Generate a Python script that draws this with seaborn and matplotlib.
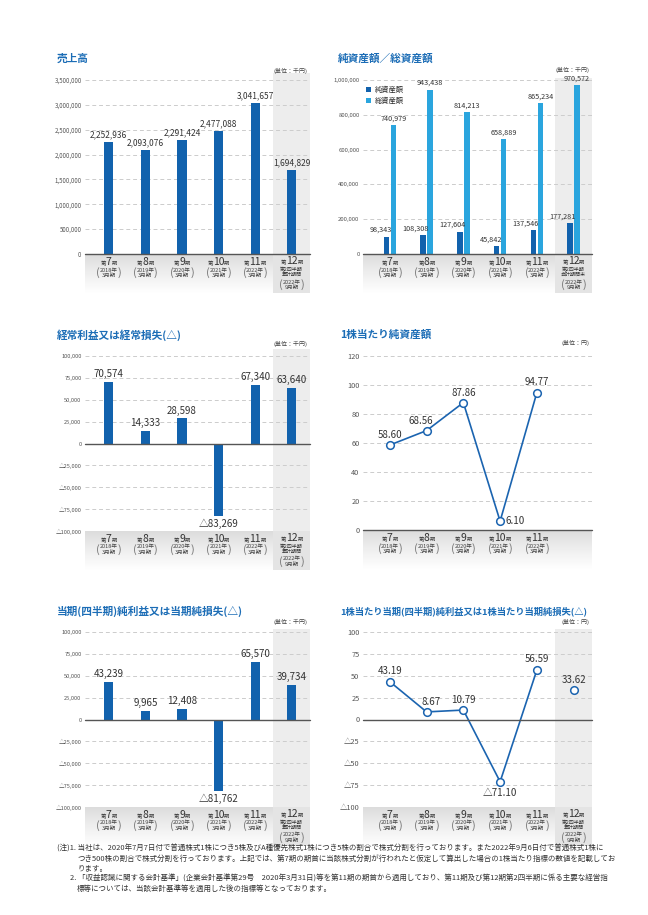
import numpy as np
import pandas as pd
import matplotlib
matplotlib.use('Agg')
import matplotlib.pyplot as plt
from matplotlib.colors import LinearSegmentedColormap
import seaborn as sns

# --- データ ---
period_nums = ['7', '8', '9', '10', '11', '12']
periods = ['第' + n + '期' for n in period_nums]
years = ['2018年', '2019年', '2020年', '2021年', '2022年', '2022年']
months = ['3月期', '3月期', '3月期', '3月期', '3月期', '9月期']

sales = [2252936, 2093076, 2291424, 2477088, 3041657, 1694829]
net_assets = [98343, 108308, 127604, 45842, 137546, 177281]
total_assets = [740979, 943438, 814213, 658889, 865234, 970572]
ordinary_income = [70574, 14333, 28598, -83269, 67340, 63640]
bps = [58.60, 68.56, 87.86, 6.10, 94.77]
net_income = [43239, 9965, 12408, -81762, 65570, 39734]
eps = [43.19, 8.67, 10.79, -71.10, 56.59, 33.62]

sales_ticks = list(range(0, 3500001, 500000))
assets_ticks = list(range(0, 1000001, 200000))
income_ticks = list(range(-100000, 100001, 25000))
bps_ticks = list(range(0, 121, 20))
eps_ticks = list(range(-100, 101, 25))

notes = [
    '(注)1. 当社は、2020年7月7日付で普通株式1株につき5株及びA種優先株式1株につき5株の割合で株式分割を行っております。また2022年9月6日付で普通株式1株に',
    'つき500株の割合で株式分割を行っております。上記では、第7期の期首に当該株式分割が行われたと仮定して算出した場合の1株当たり指標の数値を記載してお',
    'ります。',
    '2. 「収益認識に関する会計基準」(企業会計基準第29号　2020年3月31日)等を第11期の期首から適用しており、第11期及び第12期第2四半期に係る主要な経営指',
    '標等については、当該会計基準等を適用した後の指標等となっております。',
]

sns.set_style('white')
plt.rcParams['font.family'] = ['Noto Sans CJK JP', 'DejaVu Sans']

W, H = 648, 915
fig = plt.figure(figsize=(W / 100, H / 100), dpi=100)

DARK = '#1262ad'
LIGHT = '#2aa5de'
LINE = '#1b64b0'
TITLE = '#1c6db6'
TXT = '#333333'
TICK = '#555555'
SHADE = '#ededed'

band_cmap = LinearSegmentedColormap.from_list('band', ['#dcdcdc', '#efefef', '#ffffff'])


def rect(l, t, r, b):
    return [l / W, 1 - b / H, (r - l) / W, (b - t) / H]


def fmt(v, dec=0):
    s = f'{abs(v):,.{dec}f}'
    return '△' + s if v < 0 else s


def style_axis(ax, ticks, top, bot, pad, xlim, shade, tick_size, dec=0):
    span = ticks[-1] - ticks[0]
    ax.set_ylim(ticks[0], ticks[-1] + span * pad / (bot - top))
    ax.set_xlim(*xlim)
    ax.set_yticks(ticks)
    ax.set_yticklabels([fmt(t) for t in ticks])
    ax.set_xticks([])
    ax.set_xlabel('')
    ax.set_ylabel('')
    for t in ticks[1:]:
        if t != 0:
            ax.axhline(t, color='#cccccc', lw=0.7, ls=(0, (4, 3)), zorder=0)
    ax.axhline(0, color='#555555', lw=1.0, zorder=4, clip_on=False)
    if shade:
        ax.axvspan(4.5, 5.5, color=SHADE, zorder=-1, lw=0)
    for s in ax.spines.values():
        s.set_visible(False)
    ax.tick_params(axis='y', length=0, labelsize=tick_size, labelcolor=TICK, pad=2.5)
    ax.patch.set_alpha(0)
    ax.set_zorder(2)


def draw_band(l, r, bot, xlim, n, shade, extra):
    bax = fig.add_axes(rect(l, bot, r, bot + 39))
    grad = np.linspace(0, 1, 100).reshape(-1, 1)
    bax.imshow(grad, extent=[xlim[0], xlim[1], 39, 0], aspect='auto', cmap=band_cmap, zorder=0)
    if shade:
        bax.axvspan(4.5, 5.5, color='#e4e4e4', zorder=1, lw=0)
    bax.set_xlim(*xlim)
    bax.set_ylim(39, 0)
    bax.axis('off')
    bax.set_zorder(1)
    for i in range(n):
        num = period_nums[i]
        base = 11 if i < 5 else 10
        hw = 0.25 * 7.5 * len(num) + 0.3
        bax.annotate(num, (i, base), xytext=(0, 0), textcoords='offset points',
                     ha='center', va='baseline', fontsize=7.5, color=TXT)
        bax.annotate('第', (i, base), xytext=(-hw, 0), textcoords='offset points',
                     ha='right', va='baseline', fontsize=3.8, color=TXT)
        bax.annotate('期', (i, base), xytext=(hw, 0), textcoords='offset points',
                     ha='left', va='baseline', fontsize=3.8, color=TXT)
        if i < 5:
            y1, y2 = 16, 21.5
        else:
            bax.text(i, 15.5, '第2四半期', ha='center', va='center', fontsize=3.6, color=TXT)
            bax.text(i, 20.5, extra, ha='center', va='center', fontsize=3.6, color=TXT)
            y1, y2 = 28, 33.5
        bax.text(i, y1, years[i], ha='center', va='center', fontsize=4, color='#444444')
        bax.text(i, y2, months[i], ha='center', va='center', fontsize=4, color='#444444')
        for ch, dx in (('(', -7.5), (')', 7.5)):
            bax.annotate(ch, (i, (y1 + y2) / 2), xytext=(dx, 0), textcoords='offset points',
                         ha='center', va='center', fontsize=8, color='#777777')
    return bax


def label_bars(ax, xs, vals, size, dy=2.0):
    for x, v in zip(xs, vals):
        if v >= 0:
            ax.annotate(fmt(v), (x, v), xytext=(0, dy), textcoords='offset points',
                        ha='center', va='bottom', fontsize=size, color=TXT)
        else:
            ax.annotate(fmt(v), (x, v), xytext=(0, -dy), textcoords='offset points',
                        ha='center', va='top', fontsize=size, color=TXT)


def title(x, y, s, size=7.7):
    fig.text(x / W, 1 - y / H, s, ha='left', va='center', fontsize=size,
             fontweight='bold', color=TITLE)


def unit(x, y, s):
    fig.text(x / W, 1 - y / H, s, ha='right', va='center', fontsize=4.3, color='#444444')


XL = (-0.65, 5.5)
XR = (-0.73, 5.5)

# --- 売上高 ---
ax1 = fig.add_axes(rect(85, 80 - 7, 310, 254))
sns.barplot(x=periods, y=sales, color=DARK, saturation=1, width=0.25, linewidth=0, ax=ax1)
style_axis(ax1, sales_ticks, 80, 254, 7, XL, True, 4.4)
label_bars(ax1, range(6), sales, 6.0)
draw_band(85, 310, 254, XL, 6, True, '累計期間')
title(57, 59, '売上高')
unit(308, 71, '(単位：千円)')

# --- 純資産額／総資産額 ---
ax2 = fig.add_axes(rect(363, 80 - 2, 592, 254))
assets_df = pd.DataFrame({
    'period': periods * 2,
    'value': net_assets + total_assets,
    'kind': ['純資産額'] * 6 + ['総資産額'] * 6,
})
sns.barplot(data=assets_df, x='period', y='value', hue='kind', palette=[DARK, LIGHT],
            saturation=1, width=0.38, gap=0.2, linewidth=0, ax=ax2)
style_axis(ax2, assets_ticks, 80, 254, 2, XR, True, 4.3)
h, lab = ax2.get_legend_handles_labels()
ax2.legend(h, lab, loc='upper left', bbox_to_anchor=(3 / 229, 1 - 8 / 176), frameon=False,
           fontsize=5.2, handlelength=0.75, handleheight=0.75, handletextpad=0.5,
           labelspacing=0.45, borderpad=0, borderaxespad=0)
for i, v in enumerate(net_assets):
    ax2.annotate(fmt(v), (i - 0.095, v), xytext=(4, 2), textcoords='offset points',
                 ha='right', va='bottom', fontsize=5.2, color=TXT)
for i, v in enumerate(total_assets):
    ax2.annotate(fmt(v), (i + 0.095, v), xytext=(0, 2), textcoords='offset points',
                 ha='center', va='bottom', fontsize=5.2, color=TXT)
draw_band(363, 592, 254, XR, 6, True, '会計期間末')
title(338, 59, '純資産額／総資産額')
unit(590, 70, '(単位：千円)')

# --- 経常利益又は経常損失 ---
ax3 = fig.add_axes(rect(85, 356 - 7, 310, 531))
sns.barplot(x=periods, y=ordinary_income, color=DARK, saturation=1, width=0.25, linewidth=0, ax=ax3)
style_axis(ax3, income_ticks, 356, 531, 7, XL, True, 4.1)
label_bars(ax3, range(6), ordinary_income, 7.0)
draw_band(85, 310, 531, XL, 6, True, '累計期間')
title(57, 335, '経常利益又は経常損失(△)')
unit(308, 344, '(単位：千円)')

# --- 1株当たり純資産額 ---
ax4 = fig.add_axes(rect(363, 356, 592, 530))
sns.lineplot(x=range(5), y=bps, color=LINE, lw=1.2, marker='o', markersize=5.5,
             markerfacecolor='white', markeredgecolor=LINE, markeredgewidth=1.1, ax=ax4)
style_axis(ax4, bps_ticks, 356, 530, 0, XR, False, 5.3)
bps_off = [(0, 3.5), (-4, 3.5), (0, 3.5), (4, 0), (0, 4)]
for i, (v, off) in enumerate(zip(bps, bps_off)):
    ha, va = ('left', 'center') if off[0] > 2 else ('center', 'bottom')
    ax4.annotate(f'{v:.2f}', (i, v), xytext=off, textcoords='offset points',
                 ha=ha, va=va, fontsize=7.0, color=TXT)
draw_band(363, 592, 530, XR, 5, False, '')
title(340, 335, '1株当たり純資産額')
unit(590, 343, '(単位：円)')

# --- 当期(四半期)純利益又は当期純損失 ---
ax5 = fig.add_axes(rect(85, 632 - 3, 310, 807))
sns.barplot(x=periods, y=net_income, color=DARK, saturation=1, width=0.25, linewidth=0, ax=ax5)
style_axis(ax5, income_ticks, 632, 807, 3, XL, True, 4.1)
label_bars(ax5, range(6), net_income, 7.0)
draw_band(85, 310, 807, XL, 6, True, '累計期間')
title(57, 611, '当期(四半期)純利益又は当期純損失(△)')
unit(308, 622, '(単位：千円)')

# --- 1株当たり当期(四半期)純利益 ---
ax6 = fig.add_axes(rect(363, 632 - 3, 592, 807))
sns.lineplot(x=range(5), y=eps[:5], color=LINE, lw=1.2, marker='o', markersize=5.5,
             markerfacecolor='white', markeredgecolor=LINE, markeredgewidth=1.1, ax=ax6)
sns.scatterplot(x=[5], y=eps[5:], s=30, color='white', edgecolor=LINE, linewidth=1.1,
                zorder=5, ax=ax6)
style_axis(ax6, eps_ticks, 632, 807, 3, XR, True, 5.3)
eps_off = [(0, 4), (3, 3.5), (0, 3.5), (0, -4.5), (0, 4), (0, 3.5)]
for i, (v, off) in enumerate(zip(eps, eps_off)):
    va = 'top' if v < 0 else 'bottom'
    ax6.annotate(fmt(v, 2), (i, v), xytext=off, textcoords='offset points',
                 ha='center', va=va, fontsize=7.0, color=TXT)
draw_band(363, 592, 807, XR, 6, True, '累計期間')
title(340, 611, '1株当たり当期(四半期)純利益又は1株当たり当期純損失(△)', size=6.7)
unit(590, 622, '(単位：円)')

# --- 注記 ---
note_pos = [(57, 849), (77, 859), (77, 869), (70, 879), (77, 889)]
for (x, y), s in zip(note_pos, notes):
    fig.text(x / W, 1 - y / H, s, ha='left', va='center', fontsize=5.4, color=TXT)

fig.savefig('out.png', dpi=100)
